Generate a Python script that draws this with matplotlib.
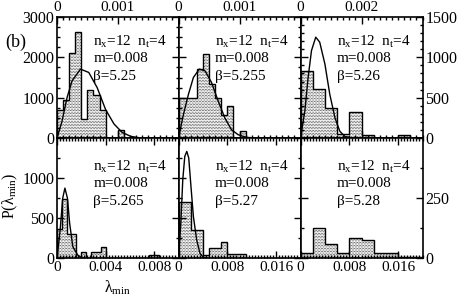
import numpy as np
import matplotlib
matplotlib.use("Agg")
import matplotlib.pyplot as plt
from matplotlib.ticker import MultipleLocator

plt.rcParams["font.family"] = ["Liberation Serif", "DejaVu Serif"]
plt.rcParams["mathtext.fontset"] = "custom"
plt.rcParams["mathtext.rm"] = "Liberation Serif"
plt.rcParams["mathtext.it"] = "Liberation Serif:italic"
plt.rcParams["hatch.linewidth"] = 0.35

# ---------------------------------------------------------
# data (histograms + RMT curves)
# ---------------------------------------------------------
betas = ["5.25", "5.255", "5.26", "5.265", "5.27", "5.28"]

# top row
hist_525_w = 0.0001
hist_525 = [690, 940, 2100, 2640, 460, 1190, 1070, 690, 0, 0, 210]
curve_525_x = [0, 8.3e-5, 1.65e-4, 2.48e-4, 3.86e-4, 5.23e-4, 6.61e-4,
               7.99e-4, 9.37e-4, 1.07e-3, 1.21e-3, 1.38e-3]
curve_525_y = [0, 417, 1000, 1417, 1708, 1625, 1250, 708, 350, 142, 42, 0]

hist_5255_w = 0.0001
hist_5255 = [1000, 1000, 1000, 1700, 2080, 1330, 1000, 580, 790, 0, 180]
curve_5255_x = [0, 8.1e-5, 1.63e-4, 2.44e-4, 3.41e-4, 4.34e-4, 5.42e-4,
                6.5e-4, 7.59e-4, 8.67e-4, 9.76e-4, 1.11e-3, 1.27e-3]
curve_5255_y = [0, 583, 1083, 1500, 1708, 1667, 1375, 917, 500, 208, 83, 17, 0]

hist_526_w = 0.0004
hist_526 = [833, 604, 375, 50, 321, 42, 0, 0, 42]
curve_526_x = [0, 1.42e-4, 2.5e-4, 3.6e-4, 5.0e-4, 6.3e-4, 8.0e-4,
               9.6e-4, 1.13e-3, 1.29e-3, 1.45e-3, 1.67e-3]
curve_526_y = [0, 333, 750, 1083, 1250, 1188, 917, 542, 250, 83, 21, 0]

# bottom row
hist_5265_w = 0.0004
hist_5265 = [363, 740, 300, 300, 0, 83, 0, 83, 83, 146,
             0, 0, 0, 0, 0, 0, 0, 0, 0, 42, 42]
curve_5265_x = [0, 2.6e-4, 4.7e-4, 6.5e-4, 8.6e-4, 1.04e-3, 1.3e-3, 1.7e-3, 2.1e-3]
curve_5265_y = [0, 354, 750, 875, 750, 437, 146, 42, 0]

hist_527_w = 0.001
hist_527 = [708, 708, 354, 354, 42, 125, 125, 200, 50, 50, 50]
curve_527_x = [0, 3.8e-4, 7.0e-4, 1.03e-3, 1.36e-3, 1.68e-3, 2.0e-3,
               2.44e-3, 2.98e-3, 3.52e-3, 4.07e-3, 4.88e-3]
curve_527_y = [0, 437, 979, 1271, 1333, 1250, 937, 521, 229, 62, 12, 0]

hist_528_w = 0.002
hist_528 = [21, 125, 58, 21, 83, 74, 21, 21, 7, 7]

# axis ranges and ticks
xmax = [0.002, 0.002, 0.004, 0.01, 0.02, 0.02]
ymax = [3000, 3000, 1500, 1500, 1500, 500]
xticks = [[0, 0.001], [0, 0.001], [0, 0.002],
          [0, 0.004, 0.008], [0, 0.008, 0.016], [0, 0.008, 0.016]]
xlabels = [["0", "0.001"], ["0", "0.001"], ["0", "0.002"],
           ["0", "0.004", "0.008"], ["0", "0.008", "0.016"], ["0", "0.008", "0.016"]]
xminor = [0.0001, 0.0001, 0.0002, 0.00025, 0.0005, 0.0005]
yticks = [[0, 1000, 2000, 3000], [0, 1000, 2000, 3000], [0, 500, 1000, 1500],
          [0, 500, 1000, 1500], [0, 500, 1000, 1500], [0, 250, 500]]
ylabels = [["0", "1000", "2000", "3000"], None, ["0", "500", "1000", "1500"],
           ["0", "500", "1000", ""], None, ["0", "250", ""]]
yminor = [250, 250, 100, 250, 250, 125]

hists = [(hist_525, hist_525_w), (hist_5255, hist_5255_w), (hist_526, hist_526_w),
         (hist_5265, hist_5265_w), (hist_527, hist_527_w), (hist_528, hist_528_w)]
curves = [(curve_525_x, curve_525_y), (curve_5255_x, curve_5255_y),
          (curve_526_x, curve_526_y), (curve_5265_x, curve_5265_y),
          (curve_527_x, curve_527_y), None]

# ---------------------------------------------------------
# layout (pixel boxes of the reference)
# ---------------------------------------------------------
W, H = 458, 301
col_x = [57, 178.5, 300.5, 422.5]
row_y = [17, 138, 258.3]

fig = plt.figure(figsize=(W / 100, H / 100), dpi=100)

for i in range(6):
    r, c = divmod(i, 3)
    left = col_x[c] / W
    width = (col_x[c + 1] - col_x[c]) / W
    bottom = 1 - row_y[r + 1] / H
    height = (row_y[r + 1] - row_y[r]) / H
    ax = fig.add_axes([left, bottom, width, height])

    heights, w = hists[i]
    edges = np.arange(len(heights) + 1) * w
    ax.stairs(heights, edges, fill=True, facecolor="white", edgecolor="black",
              hatch="." * 11, linewidth=0)
    ax.stairs(heights, edges, color="black", linewidth=1.0)

    if curves[i] is not None:
        ax.plot(curves[i][0], curves[i][1], color="black", linewidth=1.0)

    ax.set_xlim(0, xmax[i])
    ax.set_ylim(0, ymax[i])

    ax.set_xticks(xticks[i], xlabels[i])
    ax.xaxis.set_minor_locator(MultipleLocator(xminor[i]))
    if ylabels[i] is None:
        ax.set_yticks(yticks[i], [""] * len(yticks[i]))
    else:
        ax.set_yticks(yticks[i], ylabels[i])
    ax.yaxis.set_minor_locator(MultipleLocator(yminor[i]))

    ax.tick_params(which="both", direction="in", top=True, bottom=True,
                   left=True, right=True, width=1.0, pad=2)
    ax.tick_params(axis="x", labelsize=11)
    ax.tick_params(axis="y", labelsize=11.5)
    ax.tick_params(which="major", length=5)
    ax.tick_params(which="minor", length=2.5)
    if r == 0:
        ax.tick_params(axis="x", labeltop=True, labelbottom=False)
    if c == 2:
        ax.tick_params(axis="y", labelleft=False, labelright=True)
    for s in ax.spines.values():
        s.set_linewidth(1.2)

    tx = 0.3
    ty = [0.79, 0.655, 0.51] if r == 0 else [0.76, 0.625, 0.47]
    ax.text(tx, ty[0], r"n$_{\rm x}$=12  n$_{\rm t}$=4", transform=ax.transAxes,
            fontsize=11, va="center")
    ax.text(tx, ty[1], "m=0.008", transform=ax.transAxes, fontsize=11, va="center")
    ax.text(tx, ty[2], "β=" + betas[i], transform=ax.transAxes, fontsize=11, va="center")

fig.text(5 / W, 1 - 42 / H, "(b)", fontsize=13, va="center", ha="left")
fig.text(10 / W, 1 - 196 / H, "P(λ$_{\\rm min}$)", fontsize=11.5, rotation=90,
         va="center", ha="center")
fig.text(118 / W, 1 - 288 / H, "λ$_{\\rm min}$", fontsize=11.5, va="center", ha="center")

fig.savefig("out.png", dpi=100)
